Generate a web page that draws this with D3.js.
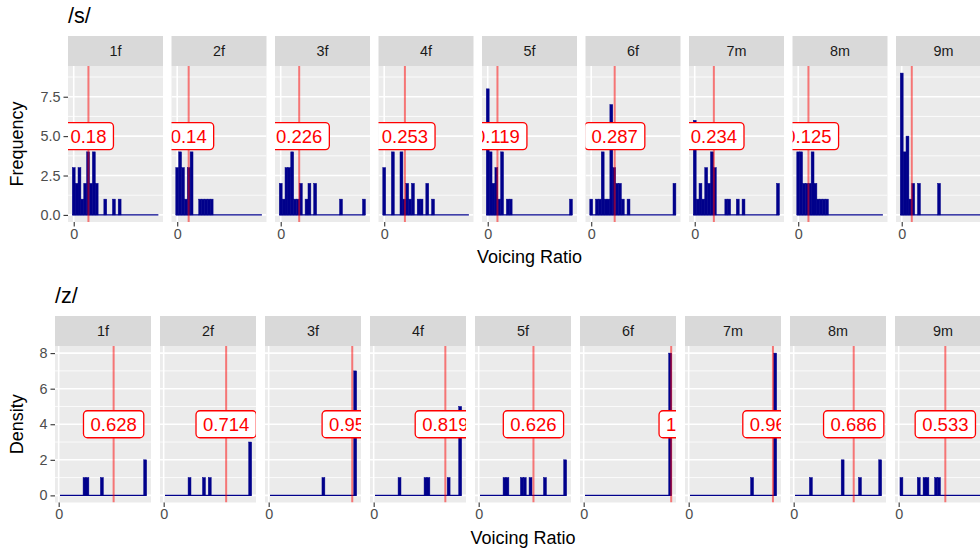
<!DOCTYPE html>
<html lang="en">
  <head>
    <meta charset="UTF-8" />
    <title>voicing ratio</title>
    <style>
      body { margin: 0; background: #fff; }
      svg { display: block; font-family: "Liberation Sans", Arial, sans-serif; }
    </style>
  </head>
  <body>
    <svg width="980" height="550"></svg>
    <script src="https://cdn.jsdelivr.net/npm/d3@7"></script>
    <script>
      // speakers (facets)
      var speakers = ["1f", "2f", "3f", "4f", "5f", "6f", "7m", "8m", "9m"];

      // /s/ : counts per bin (30 bins), mean voicing ratio, label text
      var sBinStart = -0.0175, sBinWidth = 0.0351;
      var sCounts = [
        [3,2,3,1,2,4,2,4,2,0,0,1,0,0,1,0,1,0,0,0,0,0,0,0,0,0,0,0,0,0],
        [3,4,3,1,3,4,0,0,1,1,1,1,1,0,0,0,0,0,0,0,0,0,0,0,0,0,0,0,0,0],
        [2,1,3,3,4,1,1,2,0,1,2,0,2,0,0,0,0,0,0,0,0,1,0,0,0,0,0,0,0,1],
        [3,0,0,4,0,0,4,1,2,1,2,0,1,1,0,2,0,1,0,0,0,0,0,0,0,0,0,0,0,0],
        [8,4,2,3,1,4,0,1,1,0,0,0,0,0,0,0,0,0,0,0,0,0,0,0,0,0,0,0,0,1],
        [1,0,1,1,4,1,1,7,3,2,2,1,0,1,0,0,0,0,0,0,0,0,0,0,0,0,0,0,0,2],
        [6,1,2,1,3,2,4,3,0,0,0,1,1,0,0,1,0,1,0,0,0,0,0,0,0,0,0,0,0,2],
        [4,4,2,2,2,4,2,1,1,1,1,0,0,0,0,0,0,0,0,0,0,0,0,0,0,0,0,0,0,0],
        [9,4,5,1,2,0,2,0,0,0,0,0,0,2,0,0,0,0,0,0,0,0,0,0,0,0,0,0,0,1]
      ];
      var sMeans = [0.18, 0.14, 0.226, 0.253, 0.119, 0.287, 0.234, 0.125, 0.123];
      var sLabels = ["0.18", "0.14", "0.226", "0.253", "0.119", "0.287", "0.234", "0.125", ""];
      var sYTicks = [0, 2.5, 5, 7.5];
      var sYMinor = [1.25, 3.75, 6.25, 8.75];

      // /z/
      var zBinStart = 0.015, zBinWidth = 0.033;
      var zCounts = [
        [0,0,0,0,0,0,0,0,1,1,0,0,0,0,1,0,0,0,0,0,0,0,0,0,0,0,0,0,0,2],
        [0,0,0,0,0,0,0,0,1,0,0,0,0,1,0,1,0,0,0,0,0,0,0,0,0,0,0,0,0,3],
        [0,0,0,0,0,0,0,0,0,0,0,0,0,0,0,0,0,0,1,0,0,0,0,0,0,0,0,0,0,7],
        [0,0,0,0,0,0,0,0,1,0,0,0,0,0,0,0,0,1,1,0,0,0,0,0,0,1,0,0,0,5],
        [0,0,0,0,0,0,0,0,1,1,0,0,0,0,1,1,0,1,0,0,0,0,1,0,0,0,0,0,0,2],
        [0,0,0,0,0,0,0,0,0,0,0,0,0,0,0,0,0,0,0,0,0,0,0,0,0,0,0,0,0,8],
        [0,0,0,0,0,0,0,0,0,0,0,0,0,0,0,0,0,0,0,0,0,1,0,0,0,0,0,0,0,8],
        [0,0,0,0,0,1,0,0,0,0,0,0,0,0,0,0,2,0,0,0,0,0,1,0,0,0,0,0,0,2],
        [1,0,0,0,0,0,1,0,1,1,0,0,1,1,0,0,0,0,0,0,0,0,0,0,0,0,0,0,0,3]
      ];
      var zMeans = [0.628, 0.714, 0.955, 0.819, 0.626, 1, 0.963, 0.686, 0.533];
      var zLabels = ["0.628", "0.714", "0.955", "0.819", "0.626", "1", "0.963", "0.686", "0.533"];
      var zYTicks = [0, 2, 4, 6, 8];
      var zYMinor = [1, 3, 5, 7];

      var svg = d3.select("svg");
      var clipId = 0;

      function styleAxis(a) {
        a.select(".domain").remove();
        a.selectAll("line").attr("stroke", "#333").attr("stroke-width", 1.1);
        a.selectAll("text").attr("fill", "#4D4D4D").attr("font-size", 14.4)
          .attr("font-family", "Liberation Sans, Arial, sans-serif");
      }

      function drawRow(o) {
        var g = svg.append("g");
        var x = d3.scaleLinear().domain(o.xDomain).range([0, o.panelW]);
        var y = d3.scaleLinear().domain(o.yDomain).range([o.panelBottom, o.panelTop]);

        // title
        g.append("text")
          .attr("x", o.left0)
          .attr("y", o.titleY)
          .attr("font-size", 21.6)
          .attr("fill", "#000")
          .text(o.title);

        // y axis title
        g.append("text")
          .attr("transform", "translate(23," + (o.panelTop + o.panelBottom) / 2 + ") rotate(-90)")
          .attr("text-anchor", "middle")
          .attr("font-size", 18)
          .attr("fill", "#000")
          .text(o.yTitle);

        // y axis, first panel only
        g.append("g")
          .attr("transform", "translate(" + o.left0 + ",0)")
          .call(d3.axisLeft(y).tickValues(o.yTicks).tickFormat(o.yFormat).tickSize(4.5).tickPadding(3))
          .call(styleAxis);

        speakers.forEach(function(sp, i) {
          var left = o.left0 + i * o.stride;
          var p = g.append("g").attr("transform", "translate(" + left + ",0)");

          // strip
          p.append("rect")
            .attr("x", 0).attr("y", o.stripTop)
            .attr("width", o.panelW).attr("height", o.panelTop - o.stripTop)
            .attr("fill", "#D9D9D9");
          p.append("text")
            .attr("x", o.panelW / 2)
            .attr("y", (o.stripTop + o.panelTop) / 2)
            .attr("dy", "0.35em")
            .attr("text-anchor", "middle")
            .attr("font-size", 14.4)
            .attr("fill", "#1A1A1A")
            .text(sp);

          // panel background
          p.append("rect")
            .attr("x", 0).attr("y", o.panelTop)
            .attr("width", o.panelW).attr("height", o.panelBottom - o.panelTop)
            .attr("fill", "#EBEBEB");

          var id = "clip" + (clipId++);
          p.append("clipPath").attr("id", id)
            .append("rect")
            .attr("x", 0).attr("y", o.panelTop)
            .attr("width", o.panelW).attr("height", o.panelBottom - o.panelTop);
          var c = p.append("g").attr("clip-path", "url(#" + id + ")");

          // grid
          c.selectAll(".minor").data(o.yMinor).enter().append("line")
            .attr("x1", 0).attr("x2", o.panelW)
            .attr("y1", function(d) { return y(d); })
            .attr("y2", function(d) { return y(d); })
            .attr("stroke", "#fff").attr("stroke-width", 0.8);
          c.selectAll(".major").data(o.yTicks).enter().append("line")
            .attr("x1", 0).attr("x2", o.panelW)
            .attr("y1", function(d) { return y(d); })
            .attr("y2", function(d) { return y(d); })
            .attr("stroke", "#fff").attr("stroke-width", 1.6);
          c.append("line")
            .attr("x1", x(0)).attr("x2", x(0))
            .attr("y1", o.panelTop).attr("y2", o.panelBottom)
            .attr("stroke", "#fff").attr("stroke-width", 1.6);

          // histogram
          var counts = o.counts[i];
          c.append("line")
            .attr("x1", x(o.binStart))
            .attr("x2", x(o.binStart + counts.length * o.binWidth))
            .attr("y1", y(0)).attr("y2", y(0))
            .attr("stroke", "darkblue").attr("stroke-width", 1.1);
          counts.forEach(function(d, k) {
            if (d <= 0) return;
            c.append("rect")
              .attr("x", x(o.binStart + k * o.binWidth))
              .attr("width", x(o.binWidth) - x(0))
              .attr("y", y(d))
              .attr("height", y(0) - y(d))
              .attr("fill", "darkblue")
              .attr("stroke", "darkblue")
              .attr("stroke-width", 0.5);
          });

          // mean line
          c.append("line")
            .attr("x1", x(o.means[i])).attr("x2", x(o.means[i]))
            .attr("y1", o.panelTop).attr("y2", o.panelBottom)
            .attr("stroke", "red").attr("stroke-opacity", 0.5).attr("stroke-width", 2);

          // label
          if (o.labels[i]) {
            var lg = c.append("g")
              .attr("transform", "translate(" + x(o.means[i]) + "," + y(o.labelY) + ")");
            var box = lg.append("rect");
            var t = lg.append("text")
              .attr("text-anchor", "middle")
              .attr("dy", "0.35em")
              .attr("font-size", 18.5)
              .attr("fill", "red")
              .text(o.labels[i]);
            var w = t.node().getComputedTextLength() + 14;
            box.attr("x", -w / 2).attr("y", -13.5)
              .attr("width", w).attr("height", 27)
              .attr("rx", 4)
              .attr("fill", "#fff")
              .attr("stroke", "red")
              .attr("stroke-width", 1.3);
          }

          // x axis
          p.append("g")
            .attr("transform", "translate(0," + o.panelBottom + ")")
            .call(d3.axisBottom(x).tickValues([0]).tickFormat(d3.format("d")).tickSize(4.5).tickPadding(2))
            .call(styleAxis);
        });

        // x axis title
        var lastRight = o.left0 + (speakers.length - 1) * o.stride + o.panelW;
        g.append("text")
          .attr("x", (o.left0 + lastRight) / 2)
          .attr("y", o.panelBottom + 41)
          .attr("text-anchor", "middle")
          .attr("font-size", 18)
          .attr("fill", "#000")
          .text("Voicing Ratio");
      }

      drawRow({
        title: "/s/", titleY: 23, yTitle: "Frequency",
        left0: 68, stride: 103.5, panelW: 95,
        stripTop: 36, panelTop: 66, panelBottom: 222,
        xDomain: [-0.07, 1.092], yDomain: [-0.45, 9.45],
        yTicks: sYTicks, yMinor: sYMinor, yFormat: d3.format(".1f"),
        counts: sCounts, means: sMeans, labels: sLabels, labelY: 5,
        binStart: sBinStart, binWidth: sBinWidth
      });

      drawRow({
        title: "/z/", titleY: 303, yTitle: "Density",
        left0: 55, stride: 105, panelW: 96,
        stripTop: 316, panelTop: 346, panelBottom: 502.5,
        xDomain: [-0.042, 1.055], yDomain: [-0.4, 8.4],
        yTicks: zYTicks, yMinor: zYMinor, yFormat: d3.format("d"),
        counts: zCounts, means: zMeans, labels: zLabels, labelY: 4,
        binStart: zBinStart, binWidth: zBinWidth
      });
    </script>
  </body>
</html>
